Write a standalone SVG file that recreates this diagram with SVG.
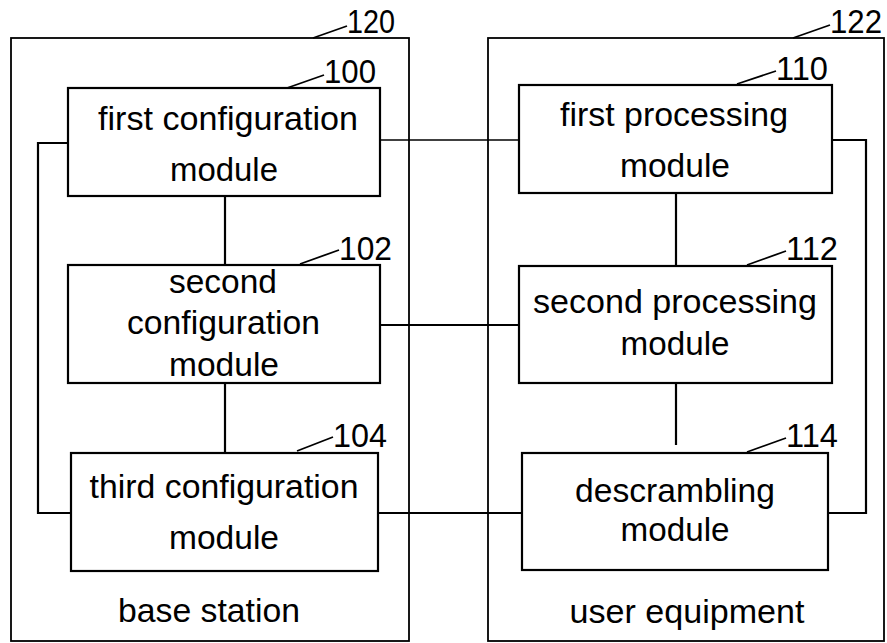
<svg xmlns="http://www.w3.org/2000/svg" width="887" height="643" viewBox="0 0 887 643">
<style>
.box{fill:none;stroke:#000;stroke-width:2.2}
.outer{fill:none;stroke:#000;stroke-width:1.8}
.ln{fill:none;stroke:#000;stroke-width:2.2}
.thin{fill:none;stroke:#000;stroke-width:1.5}
.lead{fill:none;stroke:#000;stroke-width:1.8}
.t{font-family:"Liberation Sans",Arial,sans-serif;font-size:33px;fill:#000;text-anchor:middle}
.n{font-family:"Liberation Sans",Arial,sans-serif;font-size:33px;fill:#000}
</style>
<rect width="887" height="643" fill="#fff"/>
<g id="base-station">
<rect class="outer" x="11" y="38" width="398" height="603"/>
<text class="t" x="209" y="622" textLength="182" lengthAdjust="spacingAndGlyphs">base station</text>
<path class="lead" d="M313,38 L347,26"/>
<text class="n" x="347" y="33" textLength="48" lengthAdjust="spacingAndGlyphs">120</text>
</g>
<g id="user-equipment">
<rect class="outer" x="488" y="38" width="396" height="603"/>
<text class="t" x="687" y="623" textLength="235" lengthAdjust="spacingAndGlyphs">user equipment</text>
<path class="lead" d="M793,38 L830,25"/>
<text class="n" x="830" y="33" textLength="52" lengthAdjust="spacingAndGlyphs">122</text>
</g>
<g id="connectors">
<path class="ln" d="M225,196 V265"/>
<path class="ln" d="M225,383 V453"/>
<path class="ln" d="M68,143 H38 V513 H71"/>
<path class="thin" d="M380,140 H519"/>
<path class="ln" d="M380,325 H519"/>
<path class="ln" d="M378,513 H522"/>
<path class="ln" d="M676,193 V266"/>
<path class="ln" d="M676,383 V445"/>
<path class="ln" d="M832,140 H866 V513 H828"/>
</g>
<g id="n100">
<rect class="box" x="68" y="88" width="312" height="108"/>
<text class="t" x="228" y="130" textLength="260" lengthAdjust="spacingAndGlyphs">first configuration</text>
<text class="t" x="224" y="181" textLength="108" lengthAdjust="spacingAndGlyphs">module</text>
<path class="lead" d="M287,88 L324,75"/>
<text class="n" x="324" y="83" textLength="52" lengthAdjust="spacingAndGlyphs">100</text>
</g>
<g id="n102">
<rect class="box" x="68" y="265" width="312" height="118"/>
<text class="t" x="223" y="293" textLength="108" lengthAdjust="spacingAndGlyphs">second</text>
<text class="t" x="223.5" y="334" textLength="193" lengthAdjust="spacingAndGlyphs">configuration</text>
<text class="t" x="224" y="376" textLength="110" lengthAdjust="spacingAndGlyphs">module</text>
<path class="lead" d="M300,264 L339,250"/>
<text class="n" x="339" y="260" textLength="53" lengthAdjust="spacingAndGlyphs">102</text>
</g>
<g id="n104">
<rect class="box" x="71" y="453" width="307" height="118"/>
<text class="t" x="224" y="498" textLength="269" lengthAdjust="spacingAndGlyphs">third configuration</text>
<text class="t" x="224" y="549" textLength="110" lengthAdjust="spacingAndGlyphs">module</text>
<path class="lead" d="M297,451 L333,437"/>
<text class="n" x="333" y="447" textLength="54" lengthAdjust="spacingAndGlyphs">104</text>
</g>
<g id="n110">
<rect class="box" x="519" y="85" width="313" height="108"/>
<text class="t" x="674" y="126" textLength="228" lengthAdjust="spacingAndGlyphs">first processing</text>
<text class="t" x="675" y="177" textLength="110" lengthAdjust="spacingAndGlyphs">module</text>
<path class="lead" d="M737,84 L776,71"/>
<text class="n" x="776" y="80" textLength="52" lengthAdjust="spacingAndGlyphs">110</text>
</g>
<g id="n112">
<rect class="box" x="519" y="266" width="313" height="117"/>
<text class="t" x="675" y="313" textLength="284" lengthAdjust="spacingAndGlyphs">second processing</text>
<text class="t" x="675" y="355" textLength="109" lengthAdjust="spacingAndGlyphs">module</text>
<path class="lead" d="M747,265 L786,251"/>
<text class="n" x="786" y="260" textLength="52" lengthAdjust="spacingAndGlyphs">112</text>
</g>
<g id="n114">
<rect class="box" x="522" y="453" width="306" height="117"/>
<text class="t" x="675" y="502" textLength="200" lengthAdjust="spacingAndGlyphs">descrambling</text>
<text class="t" x="675" y="541" textLength="109" lengthAdjust="spacingAndGlyphs">module</text>
<path class="lead" d="M747,452 L786,438"/>
<text class="n" x="786" y="447" textLength="52" lengthAdjust="spacingAndGlyphs">114</text>
</g>
</svg>
